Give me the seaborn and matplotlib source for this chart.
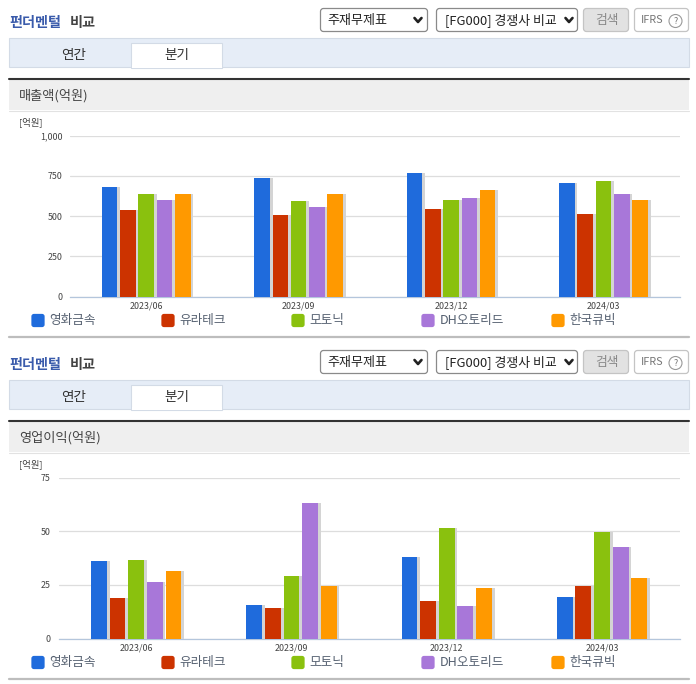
import pandas as pd
import seaborn as sns
import matplotlib.pyplot as plt
import matplotlib.patheffects as pe
from matplotlib.patches import Rectangle, FancyBboxPatch, Circle

sns.set_theme(style="white")
plt.rcParams['font.family'] = ['Noto Sans CJK KR', 'DejaVu Sans']

# data
quarters = ["2023/06", "2023/09", "2023/12", "2024/03"]
companies = ["영화금속", "유라테크", "모토닉", "DH오토리드", "한국큐빅"]
colors = ["#1f6bdc", "#cc3300", "#8ac10e", "#a877d9", "#ff9900"]

sales_young = [679, 735, 767, 704]
sales_yura = [535, 504, 542, 510]
sales_moto = [635, 592, 598, 717]
sales_dh = [598, 554, 610, 635]
sales_cubic = [635, 635, 660, 598]

profit_young = [36, 15.5, 37.9, 19.3]
profit_yura = [18.8, 14.1, 17.4, 24.4]
profit_moto = [36.5, 29, 51.4, 49.5]
profit_dh = [26.2, 63, 15, 42.5]
profit_cubic = [31.4, 24.4, 23.4, 28.1]

sales_ticks = [0, 250, 500, 750, 1000]
sales_ticklabels = ["0", "250", "500", "750", "1,000"]
profit_ticks = [0, 25, 50, 75]
profit_ticklabels = ["0", "25", "50", "75"]

W, H = 696, 684
fig = plt.figure(figsize=(W / 100, H / 100), dpi=100, facecolor="white")

# full figure axes in pixels for the page parts around the charts
ui = fig.add_axes([0, 0, 1, 1], zorder=0)
ui.set_xlim(0, W)
ui.set_ylim(H, 0)
ui.axis("off")


def box(x0, y0, x1, y1, face, edge, round_px=0):
    if round_px:
        ui.add_patch(FancyBboxPatch((x0 + round_px, y0 + round_px), x1 - x0 - 2 * round_px, y1 - y0 - 2 * round_px,
                                    boxstyle=f"round,pad={round_px}", fc=face, ec=edge, lw=0.9))
    else:
        ui.add_patch(Rectangle((x0, y0), x1 - x0, y1 - y0, fc=face, ec=edge, lw=0.8))


def chevron(x, y):
    ui.plot([x - 3.5, x, x + 3.5], [y - 2, y + 2, y - 2], color="#222222", lw=1.9)


def draw_page(dy, label):
    ui.text(9, 23 + dy, "펀더멘털", fontsize=10.2, fontweight="bold", color="#3a5bab", va="center")
    ui.text(70, 23 + dy, "비교", fontsize=10.2, fontweight="bold", color="#444444", va="center")

    box(320.5, 8.5 + dy, 427.5, 31.5 + dy, "white", "#8a8a8a", 3)
    ui.text(327, 20.5 + dy, "주재무제표", fontsize=9.4, color="#222222", va="center")
    chevron(418, 20 + dy)
    box(436.5, 8.5 + dy, 577.5, 31.5 + dy, "white", "#8a8a8a", 3)
    ui.text(445, 20.5 + dy, "[FG000] 경쟁사 비교", fontsize=9.3, color="#222222", va="center")
    chevron(569, 20 + dy)
    box(583.5, 8.5 + dy, 628.5, 31.5 + dy, "#e2e2e2", "#c4c4c4", 3)
    ui.text(606.5, 20.5 + dy, "검색", fontsize=9.2, color="#888888", ha="center", va="center")
    box(634.5, 8.5 + dy, 688.5, 31.5 + dy, "white", "#c4c4c4", 3)
    ui.text(641, 20 + dy, "IFRS", fontsize=7.8, color="#777777", va="center")
    ui.add_patch(Circle((675.5, 21 + dy), 6.5, fc="white", ec="#999999", lw=0.8))
    ui.text(675.5, 21 + dy, "?", fontsize=6.5, color="#777777", ha="center", va="center")

    box(9, 38 + dy, 689, 67 + dy, "#e6edf7", "#d3dbe6")
    box(131, 43 + dy, 222, 67.5 + dy, "white", "#d3dbe6")
    ui.add_patch(Rectangle((131.5, 65 + dy), 90, 2.5, fc="white", ec="none"))
    ui.text(74, 55 + dy, "연간", fontsize=9.8, color="#333333", ha="center", va="center")
    ui.text(177, 55 + dy, "분기", fontsize=9.8, color="#333333", ha="center", va="center")

    ui.add_patch(Rectangle((9, 80 + dy), 680, 30, fc="#efefef", ec="none"))
    ui.plot([9, 689], [110.5 + dy, 110.5 + dy], color="#e2e2e2", lw=0.8)
    ui.plot([9, 689], [79 + dy, 79 + dy], color="#333333", lw=1.5)
    ui.text(19, 95.5 + dy, label, fontsize=9.5, color="#444444", va="center")
    ui.text(19, 122 + dy, "[억원]", fontsize=6.8, color="#444444", va="center")

    # legend
    for x, name, c in zip([32, 162, 292, 422, 552], companies, colors):
        box(x, 314.5 + dy, x + 12, 326.5 + dy, c, c, 2)
        ui.text(x + 17.5, 320.5 + dy, name, fontsize=9.1, color="#556070", va="center")
    ui.plot([9, 689], [337 + dy, 337 + dy], color="#bdbdbd", lw=1.6)


def draw_chart(left, dy, series, ticks, ticklabels):
    top, bottom, right = 135.5 + dy, 296.6 + dy, 679.7
    ax = fig.add_axes([left / W, 1 - bottom / H, (right - left) / W, (bottom - top) / H], zorder=1)
    ax.patch.set_alpha(0)

    df = pd.DataFrame({"분기": quarters * len(companies),
                       "회사": [c for c in companies for _ in quarters],
                       "값": sum(series, [])})
    sns.barplot(data=df, x="분기", y="값", hue="회사", hue_order=companies, palette=colors, order=quarters,
                width=0.6, gap=0.15, saturation=1, legend=False, linewidth=0, ax=ax, zorder=3)
    for bar in ax.patches:
        bar.set_path_effects([pe.SimplePatchShadow(offset=(2, 0), shadow_rgbFace="#d4d4d4", alpha=1), pe.Normal()])

    ax.set_xlim(-0.5, len(quarters) - 0.5)
    ax.set_ylim(ticks[0], ticks[-1])
    ax.set_yticks(ticks, ticklabels)
    ax.set_xlabel("")
    ax.set_ylabel("")
    ax.grid(axis="y", color="#dddddd", lw=0.9, zorder=0)
    ax.set_axisbelow(True)
    for s in ["top", "left", "right"]:
        ax.spines[s].set_visible(False)
    ax.spines["bottom"].set_color("#b4c6dc")
    ax.spines["bottom"].set_linewidth(0.9)
    ax.set_xticks([i - 0.5 for i in range(len(quarters) + 1)], minor=True)
    ax.tick_params(axis="x", which="minor", length=3, width=0.7, color="#b4c6dc")
    ax.tick_params(axis="x", which="major", length=0, pad=3.5, labelsize=6.4, labelcolor="#444444")
    ax.tick_params(axis="y", length=0, pad=5.5, labelsize=6.4, labelcolor="#444444")
    return ax


draw_page(0, "매출액(억원)")
draw_page(342, "영업이익(억원)")

draw_chart(70, 0, [sales_young, sales_yura, sales_moto, sales_dh, sales_cubic], sales_ticks, sales_ticklabels)
draw_chart(58.5, 342, [profit_young, profit_yura, profit_moto, profit_dh, profit_cubic], profit_ticks, profit_ticklabels)

plt.savefig("out.png", dpi=100)
